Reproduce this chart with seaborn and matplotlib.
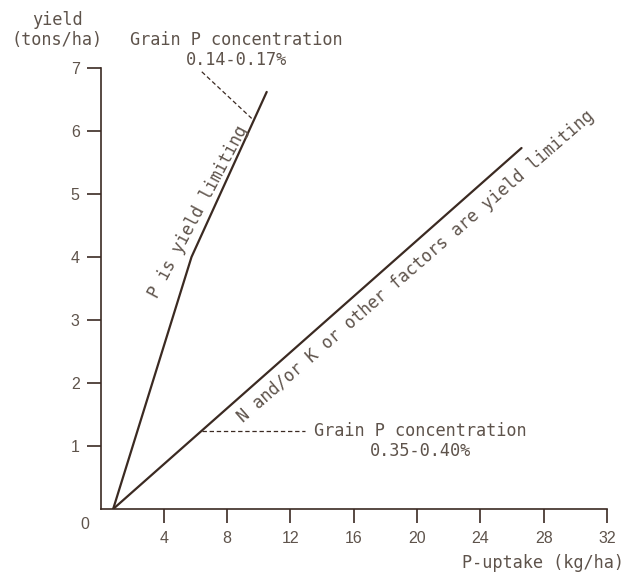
import matplotlib
matplotlib.use("Agg")
import matplotlib.pyplot as plt
import seaborn as sns
import pandas as pd

# P uptake (kg/ha) vs grain yield (tons/ha)
uptake_p_limited = [0.8, 5.75, 10.5]
yield_p_limited = [0.0, 4.0, 6.62]
uptake_other_limited = [0.8, 26.6]
yield_other_limited = [0.0, 5.73]

x_ticks = [4, 8, 12, 16, 20, 24, 28, 32]
y_ticks = [1, 2, 3, 4, 5, 6, 7]

# leader lines from the response curves to the concentration notes
low_leader_x = [6.4, 12.9]
low_leader_y = [1.24, 1.24]
high_leader_x = [6.4, 9.55]
high_leader_y = [6.94, 6.2]

line_color = "#3b2a22"
text_color = "#5e534b"
mono = "DejaVu Sans Mono"
fs = 12.2

sns.set_style("white")
plt.rcParams["font.family"] = ["Liberation Sans", "DejaVu Sans"]

fig = plt.figure(figsize=(6.33, 5.75), dpi=100)
W, H = 633, 575
ax = fig.add_axes([100.5 / W, (H - 509) / H, (607 - 100.5) / W, (509 - 68) / H])

df_p = pd.DataFrame({"uptake": uptake_p_limited, "yield": yield_p_limited})
df_o = pd.DataFrame({"uptake": uptake_other_limited, "yield": yield_other_limited})
sns.lineplot(data=df_p, x="uptake", y="yield", sort=False, color=line_color,
             linewidth=1.6, ax=ax)
sns.lineplot(data=df_o, x="uptake", y="yield", sort=False, color=line_color,
             linewidth=1.6, ax=ax)

ax.plot(low_leader_x, low_leader_y, color=line_color, linewidth=0.9,
        dashes=(3.5, 2.2))
ax.plot(high_leader_x, high_leader_y, color=line_color, linewidth=0.9,
        dashes=(3.5, 2.2))

ax.set_xlim(0, 32)
ax.set_ylim(0, 7)
ax.set_xticks(x_ticks)
ax.set_yticks(y_ticks)
ax.set_xticklabels([str(t) for t in x_ticks])
ax.set_yticklabels([str(t) for t in y_ticks])
ax.set_xlabel("")
ax.set_ylabel("")
for side in ("top", "right"):
    ax.spines[side].set_visible(False)
for side in ("left", "bottom"):
    ax.spines[side].set_color(line_color)
    ax.spines[side].set_linewidth(1.2)
ax.tick_params(axis="both", direction="out", length=10, width=1.2,
               color=line_color, labelcolor=text_color, labelsize=11.5,
               bottom=True, left=True)
ax.tick_params(axis="x", pad=6)
ax.tick_params(axis="y", pad=5)
ax.patch.set_alpha(0)

# origin label set off diagonally from the corner
ax.annotate("0", xy=(0, 0), xytext=(-11, -11.5), textcoords="offset points",
            ha="center", va="center", fontsize=11.5, color=text_color,
            annotation_clip=False)

ax.text(8.57, 7.28, "Grain P concentration\n0.14-0.17%", ha="center",
        va="center", multialignment="center", family=mono, fontsize=fs,
        color=text_color, linespacing=1.15, clip_on=False)
ax.text(20.2, 1.08, "Grain P concentration\n0.35-0.40%", ha="center",
        va="center", multialignment="center", family=mono, fontsize=fs,
        color=text_color, linespacing=1.15, clip_on=False)

ax.text(6.2, 4.72, "P is yield limiting", rotation=62, rotation_mode="anchor",
        ha="center", va="center", family=mono, fontsize=fs, color=text_color)
ax.text(19.95, 3.85, "N and/or K or other factors are yield limiting",
        rotation=41, rotation_mode="anchor", ha="center", va="center",
        family=mono, fontsize=fs, color=text_color, clip_on=False)

fig.text(57 / W, 1 - 30 / H, "yield\n(tons/ha)", ha="center", va="center",
         multialignment="center", family=mono, fontsize=fs, color=text_color,
         linespacing=1.1)
fig.text(624 / W, 1 - 563 / H, "P-uptake (kg/ha)", ha="right", va="center",
         family=mono, fontsize=fs, color=text_color)

fig.savefig("out.png", dpi=100, facecolor="white")
